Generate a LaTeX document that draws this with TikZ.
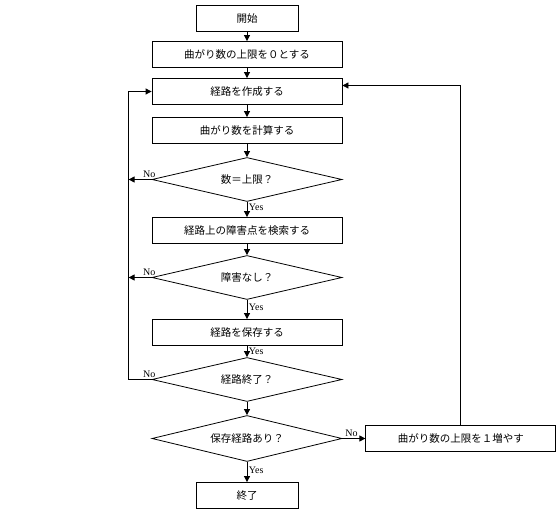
\documentclass[tikz,border=0pt]{standalone}
\usepackage{fontspec}
\setmainfont{Liberation Serif}
\newfontfamily\jp{Noto Sans CJK JP}
\usetikzlibrary{arrows.meta, positioning, shapes.geometric, calc}
\tikzset{
  box/.style={draw, line width=0.8pt, minimum width=190pt, minimum height=26pt, inner sep=2pt, font=\jp\fontsize{10.5}{12}\selectfont},
  kurz/.style={box, minimum width=102pt},
  raute/.style={draw, diamond, aspect=4, line width=0.8pt, minimum width=190pt, minimum height=44pt, inner sep=1pt, font=\jp\fontsize{10.5}{12}\selectfont},
  pfeil/.style={-{Triangle[length=6pt, width=6pt]}, line width=0.8pt},
  lbl/.style={font=\fontsize{10}{12}\selectfont, inner sep=1.5pt},
}

\begin{document}
\begin{tikzpicture}[x=1pt, y=1pt]
    \useasboundingbox (0,0) rectangle (560,-510);
    \node[kurz] (start) at (247,-18.5) {開始};
    \node[box, below=9.2pt of start] (init) {曲がり数の上限を０とする};
    \node[box, below=10.2pt of init] (mk) {経路を作成する};
    \node[box, below=12.2pt of mk] (calc) {曲がり数を計算する};
    \node[raute, below=13.2pt of calc] (d1) {数＝上限？};
    \node[box, below=15.2pt of d1] (srch) {経路上の障害点を検索する};
    \node[raute, below=11.2pt of srch] (d2) {障害なし？};
    \node[box, below=19.2pt of d2] (save) {経路を保存する};
    \node[raute, below=11.2pt of save] (d3) {経路終了？};
    \node[raute, minimum height=46pt, below=13.2pt of d3] (d4) {保存経路あり？};
    \node[kurz, below=20.2pt of d4] (end) {終了};
    \node[box, right=23pt of d4] (inc) {曲がり数の上限を１増やす};
    \coordinate (lk) at ([xshift=-23pt]d3.west);

    % main line
    \draw[pfeil] (start) -- (init);
    \draw[pfeil] (init) -- (mk);
    \draw[pfeil] (mk) -- (calc);
    \draw[pfeil] (calc) -- (d1);
    \draw[pfeil] (d1) -- node[lbl, right, pos=0.35] {Yes} (srch);
    \draw[pfeil] (srch) -- (d2);
    \draw[pfeil] (d2) -- node[lbl, right, pos=0.4] {Yes} (save);
    \draw[pfeil] (save) -- node[lbl, right, pos=0.5] {Yes} (d3);
    \draw[pfeil] (d3) -- (d4);
    \draw[pfeil] (d4) -- node[lbl, right, pos=0.4] {Yes} (end);

    % loops
    \draw[pfeil] (d1.west) -- node[lbl, above, pos=0.1] {No} (d1.west -| lk);
    \draw[pfeil] (d2.west) -- node[lbl, above, pos=0.1] {No} (d2.west -| lk);
    \draw[pfeil] (d3.west) -- node[lbl, above, pos=0.1] {No} (lk) |- (mk.west);
    \draw[pfeil] (d4) -- node[lbl, above, pos=0.4] {No} (inc);
    \draw[pfeil] (inc.north) |- ([yshift=6pt]mk.east);
\end{tikzpicture}
\end{document}
